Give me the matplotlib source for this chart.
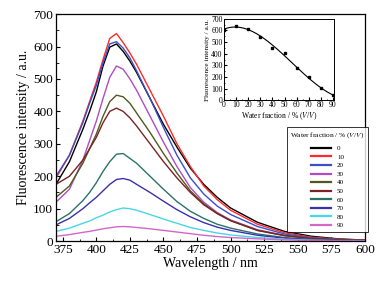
import matplotlib
matplotlib.use("Agg")
import matplotlib.pyplot as plt
import numpy as np

plt.rcParams['font.family'] = ['Liberation Serif', 'DejaVu Serif']
plt.rcParams['mathtext.fontset'] = 'stix'

# emission spectra
wavelength = [370, 380, 390, 395, 400, 405, 410, 415, 420, 425, 430, 440,
              450, 460, 470, 480, 490, 500, 520, 540, 560, 580, 600]
fractions = ['0', '10', '20', '30', '40', '50', '60', '70', '80', '90']

f0 = [175, 245, 345, 400, 460, 540, 598, 608, 585, 555, 520, 440,
      360, 290, 225, 175, 135, 102, 58, 30, 15, 7, 3]
f10 = [195, 265, 370, 430, 490, 560, 625, 640, 612, 580, 545, 465,
       385, 300, 230, 170, 128, 95, 52, 26, 12, 6, 3]
f20 = [200, 265, 365, 425, 480, 550, 608, 615, 595, 565, 525, 440,
       350, 265, 195, 145, 108, 82, 45, 22, 10, 5, 2]
f30 = [120, 160, 250, 310, 370, 440, 505, 540, 530, 500, 465, 385,
       305, 230, 165, 120, 88, 65, 35, 18, 8, 4, 2]
f40 = [135, 170, 240, 285, 330, 385, 430, 450, 445, 425, 395, 335,
       270, 210, 155, 115, 85, 63, 33, 17, 8, 4, 2]
f50 = [175, 200, 250, 285, 320, 365, 400, 410, 400, 380, 355, 300,
       245, 195, 150, 112, 85, 63, 33, 17, 8, 4, 2]
f60 = [60, 85, 125, 150, 180, 215, 245, 268, 270, 255, 240, 200,
       160, 122, 92, 70, 52, 40, 22, 11, 5, 3, 1]
f70 = [50, 70, 100, 118, 135, 155, 175, 190, 193, 188, 175, 150,
       123, 97, 75, 57, 43, 33, 18, 9, 4, 2, 1]
f80 = [30, 40, 55, 62, 72, 80, 90, 97, 102, 100, 95, 82,
       68, 55, 42, 33, 25, 19, 11, 6, 3, 1, 1]
f90 = [15, 20, 27, 30, 34, 38, 41, 44, 45, 44, 42, 38,
       33, 28, 23, 18, 14, 11, 7, 4, 2, 1, 0]

# inset: peak intensity vs water fraction
water = [0, 10, 20, 30, 40, 50, 60, 70, 80, 90]
peak = [605, 640, 615, 545, 450, 410, 275, 195, 103, 45]

colors = ['#000000', '#ff2a2a', '#3a4fc8', '#b04cc4', '#4f5a1e',
          '#7a2323', '#2a7466', '#3b2fb0', '#49d6e6', '#d466c8']
spectra = [f0, f10, f20, f30, f40, f50, f60, f70, f80, f90]

fig = plt.figure(figsize=(3.81, 2.82), dpi=100)
ax = fig.add_axes([0.147, 0.145, 0.811, 0.805])

for y, c, lab in zip(spectra, colors, fractions):
    ax.plot(wavelength, y, color=c, lw=1.0, label=lab)

ax.set_xlim(370, 600)
ax.set_ylim(0, 700)
ax.set_xticks(np.arange(375, 601, 25))
ax.set_xticks(np.arange(375 + 12.5, 600, 25), minor=True)
ax.set_yticks(np.arange(0, 701, 100))
ax.set_yticks(np.arange(50, 700, 100), minor=True)
ax.tick_params(direction='in', labelsize=9.5, length=3, pad=2)
ax.tick_params(which='minor', direction='in', length=1.8)
ax.set_xlabel('Wavelength / nm', fontsize=10, labelpad=1)
ax.set_ylabel('Fluorescence intensity / a.u.', fontsize=10, labelpad=2)
for s in ax.spines.values():
    s.set_linewidth(0.9)

leg = fig.legend(loc='lower left', bbox_to_anchor=(0.753, 0.178),
                 fontsize=5, title='Water fraction / % ($V$/$V$)',
                 title_fontsize=5.3, handlelength=3.0, handletextpad=0.8,
                 labelspacing=0.42, frameon=True, fancybox=False,
                 borderpad=0.5, borderaxespad=0, handleheight=0.6)
leg.get_frame().set_edgecolor('black')
leg.get_frame().set_linewidth(0.7)
leg._legend_box.sep = 4
for h in leg.legend_handles:
    h.set_linewidth(1.6)

# inset
ins = fig.add_axes([0.588, 0.645, 0.289, 0.288])
fit = np.polyfit(water, peak, 3)
xs = np.linspace(0, 90, 200)
ins.plot(xs, np.polyval(fit, xs), color='black', lw=0.8)
ins.plot(water, peak, 's', color='black', ms=2)
ins.set_xlim(0, 91)
ins.set_ylim(0, 700)
ins.set_xticks(water)
ins.set_xticks(np.arange(5, 91, 10), minor=True)
ins.set_yticks(np.arange(0, 701, 100))
ins.set_yticks(np.arange(50, 700, 100), minor=True)
ins.tick_params(direction='in', labelsize=5.5, length=2, pad=1)
ins.tick_params(which='minor', direction='in', length=1)
ins.set_xlabel('Water fraction / % ($V$/$V$)', fontsize=5.5, labelpad=0.5)
ins.set_ylabel('Fluorescence intensity / a.u.', fontsize=5.2, labelpad=1)
for s in ins.spines.values():
    s.set_linewidth(0.7)

fig.savefig('out.png', dpi=100)
